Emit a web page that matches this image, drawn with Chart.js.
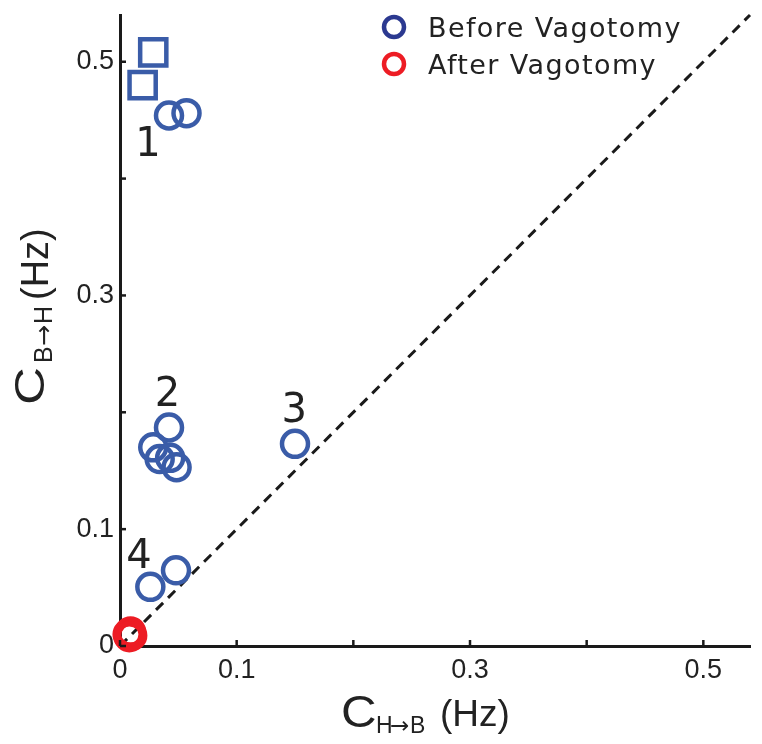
<!DOCTYPE html>
<html>
<head>
<meta charset="utf-8">
<script src="https://cdn.jsdelivr.net/npm/chart.js@4.4.0/dist/chart.umd.min.js"></script>
<style>
html,body{margin:0;padding:0;background:#fff;}
#wrap{width:762px;height:744px;}
</style>
</head>
<body>
<div id="wrap"><canvas id="c" width="762" height="744"></canvas></div>
<script>
// ---- data ----
const beforeCircleX = [0.042, 0.057, 0.042, 0.0285, 0.034, 0.043, 0.0485, 0.150, 0.026, 0.048];
const beforeCircleY = [0.454, 0.456, 0.187, 0.170, 0.160, 0.161, 0.153, 0.173, 0.0506, 0.0648];
const beforeSquareX = [0.0285, 0.0194];
const beforeSquareY = [0.508, 0.480];
const afterX = [0.007, 0.009, 0.010, 0.008];
const afterY = [0.010, 0.012, 0.009, 0.008];
const identityX = [0, 0.54];
const identityY = [0, 0.54];
const groupLabels = ['1', '2', '3', '4'];
const groupLabelX = [0.024, 0.0407, 0.1494, 0.0163];
const groupLabelY = [0.419, 0.2055, 0.1913, 0.0665];
const tickValues = [0, 0.1, 0.2, 0.3, 0.4, 0.5];
const tickLabels = ['0', '0.1', '', '0.3', '', '0.5'];
const seriesNames = ['Before Vagotomy', 'After Vagotomy'];

const BLUE = '#3a5ca8', LEGBLUE = '#2b3990', RED = '#ed1c24', INK = '#1a1a1a';
const zip = (xs, ys) => xs.map((x, i) => ({x: x, y: ys[i]}));

const inwardTicks = {
  id: 'inwardTicks',
  afterDraw(chart) {
    const ctx = chart.ctx, xs = chart.scales.x, ys = chart.scales.y, a = chart.chartArea;
    ctx.save();
    ctx.strokeStyle = INK; ctx.lineWidth = 2.5;
    tickValues.forEach(v => {
      const px = xs.getPixelForValue(v);
      ctx.beginPath(); ctx.moveTo(px, a.bottom); ctx.lineTo(px, a.bottom - 6); ctx.stroke();
      const py = ys.getPixelForValue(v);
      ctx.beginPath(); ctx.moveTo(a.left, py); ctx.lineTo(a.left + 6, py); ctx.stroke();
    });
    ctx.restore();
  }
};

function stretched(ctx, text, x, y, sx) {
  ctx.save(); ctx.translate(x, y); ctx.scale(sx, 1); ctx.fillText(text, 0, 0); ctx.restore();
}

const annotations = {
  id: 'annotations',
  afterDraw(chart) {
    const ctx = chart.ctx, xs = chart.scales.x, ys = chart.scales.y;
    ctx.save();
    ctx.fillStyle = '#222';
    // group numbers
    ctx.font = '40px "DejaVu Sans"';
    ctx.textAlign = 'center'; ctx.textBaseline = 'alphabetic';
    groupLabels.forEach((t, i) => ctx.fillText(t, xs.getPixelForValue(groupLabelX[i]), ys.getPixelForValue(groupLabelY[i])));
    // legend
    ctx.textAlign = 'left';
    ctx.font = '27px "DejaVu Sans"';
    ctx.letterSpacing = '1.4px';
    const legCols = [LEGBLUE, RED];
    const legY = [27, 64];
    seriesNames.forEach((n, i) => {
      ctx.beginPath(); ctx.arc(394, legY[i], 10, 0, Math.PI * 2);
      ctx.strokeStyle = legCols[i]; ctx.lineWidth = 4.5; ctx.stroke();
      ctx.fillStyle = '#222';
      ctx.fillText(n, 428, legY[i] + 10);
    });
    ctx.letterSpacing = '0px';
    // x title
    ctx.fillStyle = '#222';
    ctx.font = '44px "Liberation Sans"';
    stretched(ctx, 'C', 341, 727, 1.12);
    ctx.font = '23px "Liberation Sans"';
    ctx.fillText('H', 376, 733);
    ctx.font = '23px "DejaVu Sans"';
    ctx.fillText('\u2192', 390, 733);
    ctx.font = '23px "Liberation Sans"';
    ctx.fillText('B', 410, 733);
    ctx.font = '37px "Liberation Sans"';
    ctx.fillText('(Hz)', 440, 726);
    // y title
    ctx.save();
    ctx.translate(44, 404);
    ctx.rotate(-Math.PI / 2);
    ctx.font = '43px "Liberation Sans"';
    stretched(ctx, 'C', -1, 0, 1.22);
    ctx.font = '25px "Liberation Sans"';
    ctx.fillText('B', 41, 8);
    ctx.font = '25px "DejaVu Sans"';
    ctx.fillText('\u2192', 58, 8);
    ctx.font = '25px "Liberation Sans"';
    ctx.fillText('H', 80, 8);
    ctx.font = '38px "Liberation Sans"';
    ctx.fillText('(Hz)', 104, 4);
    ctx.restore();
    ctx.restore();
  }
};

function zeroPad(s) { s.paddingTop = 0; s.paddingBottom = 0; s.paddingLeft = 0; s.paddingRight = 0; }

const scaleCommon = {
  type: 'linear', min: 0, max: 0.54,
  grid: {display: false, drawTicks: false},
  border: {display: true, color: INK, width: 3},
  afterBuildTicks: s => { s.ticks = tickValues.map(v => ({value: v})); },
  ticks: {
    color: '#222', font: {family: '"Liberation Sans"', size: 27},
    callback: (v, i) => tickLabels[i]
  }
};

new Chart(document.getElementById('c'), {
  type: 'scatter',
  data: {
    datasets: [
      {label: 'identity', type: 'line', data: zip(identityX, identityY), borderColor: INK, borderWidth: 3,
       borderDash: [10, 7], pointRadius: 0, fill: false, order: 5, clip: false},
      {label: seriesNames[0], data: zip(beforeCircleX, beforeCircleY), pointStyle: 'circle', pointRadius: 13,
       borderColor: BLUE, backgroundColor: 'rgba(0,0,0,0)', borderWidth: 4.5, order: 2, clip: false},
      {label: seriesNames[0] + ' (squares)', data: zip(beforeSquareX, beforeSquareY), pointStyle: 'rect', pointRadius: 18.5,
       borderColor: BLUE, backgroundColor: 'rgba(0,0,0,0)', borderWidth: 4.5, order: 2, clip: false},
      {label: seriesNames[1], data: zip(afterX, afterY), pointStyle: 'circle', pointRadius: 13,
       borderColor: RED, backgroundColor: 'rgba(0,0,0,0)', borderWidth: 5.5, order: 1, clip: false}
    ]
  },
  options: {
    responsive: false, animation: false,
    layout: {autoPadding: false, padding: {top: 15, right: 12, left: 0, bottom: 0}},
    plugins: {legend: {display: false}, tooltip: {enabled: false}},
    elements: {point: {hoverRadius: 13}},
    scales: {
      x: Object.assign({}, scaleCommon, {position: 'bottom',
        ticks: Object.assign({}, scaleCommon.ticks, {padding: 8, maxRotation: 0, autoSkip: false}),
        afterFit: s => { s.height = 98; zeroPad(s); }}),
      y: Object.assign({}, scaleCommon, {position: 'left',
        ticks: Object.assign({}, scaleCommon.ticks, {padding: 6, autoSkip: false}),
        afterFit: s => { s.width = 120; zeroPad(s); }})
    }
  },
  plugins: [inwardTicks, annotations]
});
</script>
</body>
</html>
